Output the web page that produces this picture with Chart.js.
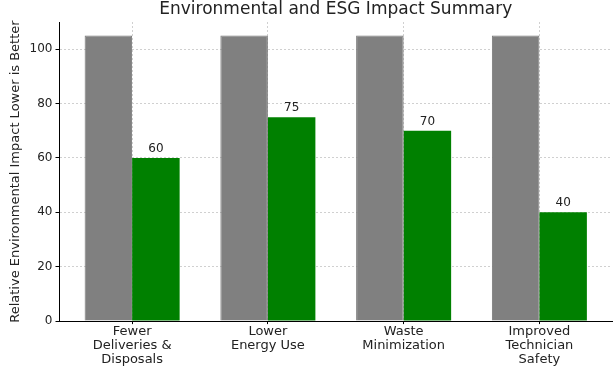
<!DOCTYPE html>
<html>
<head>
<meta charset="utf-8">
<script src="https://cdn.jsdelivr.net/npm/chart.js@4"></script>
<style>
    html, body { margin: 0; padding: 0; background: #fff; }
    #wrap { width: 615px; height: 367px; }
</style>
</head>
<body>
<div id="wrap"><canvas id="esgChart" width="615" height="367"></canvas></div>
<script>
const categories = [
    ['Fewer', 'Deliveries &', 'Disposals'],
    ['Lower', 'Energy Use'],
    ['Waste', 'Minimization'],
    ['Improved', 'Technician', 'Safety']
];
const baselineValues = [105, 105, 105, 105];
const impactValues = [60, 75, 70, 40];
const yTicks = [0, 20, 40, 60, 80, 100];

const FONT = "'DejaVu Sans', sans-serif";

// позиции категорий 0..3 на линейной оси (как в matplotlib)
const toPoints = vals => vals.map((v, i) => ({x: i, y: v}));

// подписи значений над зелёными столбцами + заголовок по центру области графика
const labelsPlugin = {
    id: 'labels',
    afterDatasetsDraw(chart) {
        const ctx = chart.ctx;
        const meta = chart.getDatasetMeta(1);
        ctx.save();
        ctx.fillStyle = '#222';
        ctx.font = '12px ' + FONT;
        ctx.textAlign = 'center';
        ctx.textBaseline = 'bottom';
        meta.data.forEach((bar, i) => {
            ctx.fillText(impactValues[i], bar.x, bar.y - 3);
        });
        const area = chart.chartArea;
        ctx.font = '17px ' + FONT;
        ctx.textBaseline = 'middle';
        ctx.fillText('Environmental and ESG Impact Summary', (area.left + area.right) / 2, 10);
        ctx.restore();
    }
};

new Chart(document.getElementById('esgChart').getContext('2d'), {
    type: 'bar',
    data: {
        datasets: [{
            data: toPoints(baselineValues),
            backgroundColor: '#808080',
            borderColor: '#777777',
            borderWidth: 1,
            categoryPercentage: 0.7,
            barPercentage: 1
        }, {
            data: toPoints(impactValues),
            backgroundColor: '#008000',
            categoryPercentage: 0.7,
            barPercentage: 1
        }]
    },
    options: {
        responsive: false,
        animation: false,
        devicePixelRatio: 1,
        layout: {padding: {top: 22, right: 3, left: 8, bottom: 0}},
        plugins: {
            legend: {display: false},
            tooltip: {enabled: false}
        },
        scales: {
            x: {
                type: 'linear',
                offset: false,
                min: -0.535,
                max: 3.535,
                afterBuildTicks: axis => {
                    axis.ticks = categories.map((c, i) => ({value: i}));
                },
                grid: {
                    offset: false,
                    color: '#d0d0d0',
                    tickColor: '#000',
                    tickLength: 3
                },
                border: {color: '#000', width: 1, dash: [2, 2]},
                ticks: {
                    color: '#222',
                    font: {family: FONT, size: 13, lineHeight: 1.1},
                    padding: 0,
                    maxRotation: 0,
                    autoSkip: false,
                    callback: v => categories[v]
                }
            },
            y: {
                min: 0,
                max: 110,
                afterBuildTicks: axis => {
                    axis.ticks = yTicks.map(v => ({value: v}));
                },
                grid: {
                    color: '#d0d0d0',
                    tickColor: '#000',
                    tickLength: 4
                },
                border: {color: '#000', width: 1, dash: [2, 2]},
                ticks: {color: '#222', font: {family: FONT, size: 12}, padding: 3},
                title: {
                    display: true,
                    text: 'Relative Environmental Impact Lower is Better',
                    color: '#222',
                    font: {family: FONT, size: 13},
                    padding: {top: 0, bottom: 3}
                }
            }
        }
    },
    plugins: [labelsPlugin]
});
</script>
</body>
</html>
